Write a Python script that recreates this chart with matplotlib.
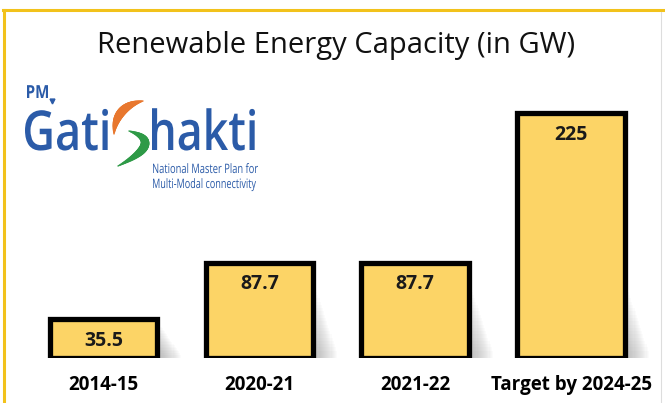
import numpy as np
import matplotlib.pyplot as plt
from matplotlib.lines import Line2D
from matplotlib.textpath import TextPath
from matplotlib.patches import PathPatch
from matplotlib.font_manager import FontProperties
from matplotlib.transforms import Affine2D

# data
categories = ["2014-15", "2020-21", "2021-22", "Target by 2024-25"]
capacity = [35.5, 87.7, 87.7, 225]
labels = ["35.5", "87.7", "87.7", "225"]

W, H = 665, 403
fig = plt.figure(figsize=(6.65, 4.03), dpi=100)
fig.patch.set_facecolor("white")

# yellow frame (top and left), faint right
fig.add_artist(Line2D([3/W, 1], [1 - 10/H, 1 - 10/H], color="#f2c21b", lw=2.2))
fig.add_artist(Line2D([4/W, 4/W], [0, 1 - 10/H], color="#f2c21b", lw=2.2))
fig.add_artist(Line2D([661/W, 661/W], [0, 1 - 12/H], color="#dddddd", lw=0.8))

# title
fig.text(336/W, 1 - 45/H, "Renewable Energy Capacity (in GW)", ha="center", va="center",
         fontsize=21, family="Open Sans", color="#111111")


# logo text, squeezed to fit a pixel box
def logo_text(s, x0, x1, baseline, em, color, weight="normal"):
    fp = FontProperties(family="Open Sans", weight=weight)
    tp = TextPath((0, 0), s, size=100, prop=fp)
    bb = tp.get_extents()
    sx = (x1 - x0) / bb.width
    sy = em / 100
    tr = Affine2D().scale(sx, sy).translate(x0 - bb.x0 * sx, H - baseline)
    fig.add_artist(PathPatch(tp, transform=tr, facecolor=color, edgecolor="none"))


blue = "#2b5ba8"
logo_text("PM", 27, 48, 98, 18, blue, "bold")
logo_text("Gati", 25, 108, 150, 55, blue, "semibold")
logo_text("hakti", 152, 255, 150, 55, blue, "semibold")
logo_text("National Master Plan for", 153, 258, 173, 13, blue)
logo_text("Multi-Modal connectivity", 153, 256, 188, 13, blue)
fig.add_artist(Line2D([52/W], [1 - 101/H], marker="v", color=blue, markersize=3.5, lw=0))


# swoosh S (orange top, green bottom), tapering strokes
def swoosh(p0, p1, p2, color, wmax):
    t = np.linspace(0, 1, 40)
    px = (1 - t) ** 2 * p0[0] + 2 * (1 - t) * t * p1[0] + t ** 2 * p2[0]
    py = (1 - t) ** 2 * p0[1] + 2 * (1 - t) * t * p1[1] + t ** 2 * p2[1]
    for i in range(len(t) - 1):
        lw = 0.8 + wmax * np.sin(np.pi * (t[i] + t[i + 1]) / 2)
        fig.add_artist(Line2D(px[i:i + 2] / W, 1 - py[i:i + 2] / H, color=color, lw=lw,
                              solid_capstyle="round"))


swoosh((114, 134), (115, 106), (143, 101), "#e8772e", 5.5)
swoosh((129, 131), (166, 142), (118, 166), "#2e9a47", 5.5)

# bars
ax = fig.add_axes([25.6/W, 45/H, (649 - 25.6)/W, 272/H])
ax.set_xlim(-0.5, 3.5)
ax.set_ylim(0, 250)
x = np.arange(len(categories))
width = 0.69

# soft shadow at lower right of each bar
n = 20
for k in range(n):
    off = 0.02 + k * 0.007
    h = np.minimum(np.array(capacity), 75) * (0.85 - k * 0.04)
    ax.bar(x + off, h, width=width, color="#8a8a8a", alpha=0.03, zorder=1, linewidth=0)

ax.bar(x, capacity, width=width, color="#fcd466", edgecolor="black", linewidth=3.8, zorder=3)

for xi, v, lab in zip(x, capacity, labels):
    ax.text(xi, v - 20, lab, ha="center", va="center", fontsize=14, fontweight="bold",
            color="#1a1a1a", family="Open Sans", zorder=4)

ax.set_xticks(x)
ax.set_xticklabels(categories, fontsize=13.5, fontweight="bold", family="Open Sans")
ax.tick_params(axis="x", length=0, pad=12)
ax.set_yticks([])
for s in ax.spines.values():
    s.set_visible(False)
ax.patch.set_alpha(0)

fig.savefig("out.png", dpi=100)
